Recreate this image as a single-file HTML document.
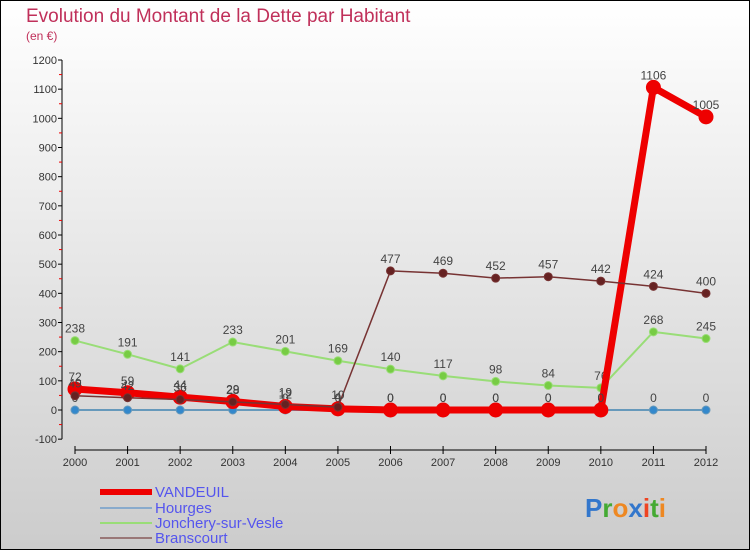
<!DOCTYPE html>
<html><head><meta charset="utf-8"><style>
body{margin:0}
#c{width:750px;height:550px;position:relative;font-family:"Liberation Sans",sans-serif}
</style></head><body>
<div id="c">
<svg id="s" width="750" height="550" xmlns="http://www.w3.org/2000/svg">
<defs><linearGradient id="bg" x1="0" y1="0" x2="0" y2="1"><stop offset="0" stop-color="#ffffff"/><stop offset="1" stop-color="#cccccc"/></linearGradient></defs>
<rect x="0.5" y="0.5" width="749" height="549" fill="url(#bg)" stroke="#000"/>
<text x="26" y="22" font-size="19" fill="#c0305a">Evolution du Montant de la Dette par Habitant</text>
<text x="26" y="40" font-size="12" fill="#c0305a">(en €)</text>
<g id="axes"></g><g id="series"></g>
<g font-size="15" fill="#5555ee">
<line x1="100" y1="492" x2="152" y2="492" stroke="#ee0000" stroke-width="6"/>
<text x="155" y="497">VANDEUIL</text>
<line x1="100" y1="508" x2="152" y2="508" stroke="#88aacc" stroke-width="2"/>
<text x="155" y="513">Hourges</text>
<line x1="100" y1="523" x2="152" y2="523" stroke="#99dd77" stroke-width="2"/>
<text x="155" y="528">Jonchery-sur-Vesle</text>
<line x1="100" y1="538" x2="152" y2="538" stroke="#997777" stroke-width="2"/>
<text x="155" y="543">Branscourt</text>
</g>
<g font-size="26" font-weight="bold">
<text x="585" y="517"><tspan fill="#3377cc">P</tspan><tspan fill="#44aa33">r</tspan><tspan fill="#ee8822">o</tspan><tspan fill="#3377cc">x</tspan><tspan fill="#ee4422">i</tspan><tspan fill="#44aa33">t</tspan><tspan fill="#ee8822">i</tspan></text>
</g>
</svg>
</div>
<script>
const years=["2000","2001","2002","2003","2004","2005","2006","2007","2008","2009","2010","2011","2012"];
const yTicks=[-100,0,100,200,300,400,500,600,700,800,900,1000,1100,1200];
const vandeuil=[72,59,44,29,12,4,0,0,0,0,0,1106,1005];
const hourges=[0,0,0,0,0,0,0,0,0,0,0,0,0];
const jonchery=[238,191,141,233,201,169,140,117,98,84,76,268,245];
const branscourt=[49,42,36,28,19,10,477,469,452,457,442,424,400];
const NS="http://www.w3.org/2000/svg";
const X=i=>75+i*(706-75)/(years.length-1);
const Y=v=>410-v*(350/1200);
function mk(t,a,p){const e=document.createElementNS(NS,t);for(const k in a)e.setAttribute(k,a[k]);p.appendChild(e);return e;}
const ax=document.getElementById('axes'),se=document.getElementById('series');
let l=mk('line',{x1:62,y1:Y(1200),x2:62,y2:Y(-100),stroke:'#000'},ax);


yTicks.forEach(v=>{mk('line',{x1:58,y1:Y(v),x2:62,y2:Y(v),stroke:'#000'},ax);
 if(v<1200)mk('line',{x1:59,y1:Y(v+50),x2:62,y2:Y(v+50),stroke:'#e00'},ax);
 const t=mk('text',{x:57,y:Y(v)+4,'text-anchor':'end','font-size':11,fill:'#333'},ax);t.textContent=v;
 
 });
l=mk('line',{x1:X(0),y1:450,x2:X(12),y2:450,stroke:'#000'},ax);


years.forEach((y,i)=>{mk('line',{x1:X(i),y1:446,x2:X(i),y2:454,stroke:'#000'},ax);
 const t=mk('text',{x:X(i),y:466,'text-anchor':'middle','font-size':11,fill:'#333'},ax);t.textContent=y;
 
 });
function series(name,data,col,w,dot,r,labels){
 const g=mk('g',{},se);
 
 
 mk('polyline',{points:data.map((v,i)=>X(i)+','+Y(v)).join(' '),fill:'none',stroke:col,'stroke-width':w,'stroke-linejoin':'round'},g);
 data.forEach((v,i)=>{const c=mk('circle',{cx:X(i),cy:Y(v),r:r,fill:dot,stroke:col,'stroke-width':1},g);
  
  
  if(labels){const t=mk('text',{x:X(i),y:Y(v)-8,'text-anchor':'middle','font-size':12,fill:'#444'},g);t.textContent=v;}});
}
series('hourges',hourges,'#6699bb',2,'#3388cc',4,true);
series('jonchery',jonchery,'#99dd77',2,'#77cc44',4,true);
series('vandeuil',vandeuil,'#ee0000',7,'#ee0000',7,true);
series('branscourt',branscourt,'#773333',1.5,'#662222',4,true);
</script>
</body></html>
